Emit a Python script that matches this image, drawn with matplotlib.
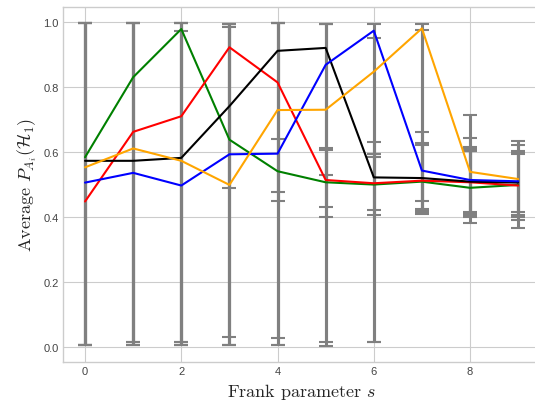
import numpy as np
import matplotlib
matplotlib.use("Agg")
import matplotlib.pyplot as plt

plt.style.use("seaborn-v0_8-whitegrid")
plt.rcParams["mathtext.fontset"] = "cm"
plt.rcParams["font.family"] = ["Liberation Sans", "DejaVu Sans"]

# ── data ────────────────────────────────────────────────────────────────
s = np.arange(10)

green = [0.583, 0.829, 0.977, 0.637, 0.540, 0.506, 0.499, 0.508, 0.489, 0.498]
red = [0.447, 0.661, 0.709, 0.921, 0.813, 0.513, 0.503, 0.511, 0.506, 0.496]
black = [0.572, 0.572, 0.581, 0.740, 0.910, 0.919, 0.521, 0.519, 0.508, 0.505]
blue = [0.505, 0.535, 0.496, 0.592, 0.594, 0.867, 0.972, 0.542, 0.513, 0.509]
orange = [0.552, 0.610, 0.572, 0.498, 0.728, 0.729, 0.846, 0.979, 0.538, 0.516]

# error bar bounds (lower, upper) per series
green_lo = [0.005, 0.015, 0.015, 0.005, 0.449, 0.400, 0.406, 0.413, 0.405, 0.414]
green_hi = [0.995, 0.995, 0.995, 0.992, 0.639, 0.611, 0.593, 0.622, 0.603, 0.593]
red_lo = [0.005, 0.005, 0.005, 0.005, 0.026, 0.429, 0.421, 0.417, 0.410, 0.404]
red_hi = [0.995, 0.995, 0.972, 0.992, 0.995, 0.606, 0.585, 0.626, 0.608, 0.598]
black_lo = [0.005, 0.005, 0.005, 0.030, 0.005, 0.004, 0.014, 0.410, 0.416, 0.398]
black_hi = [0.995, 0.995, 0.995, 0.982, 0.995, 0.994, 0.631, 0.660, 0.613, 0.603]
blue_lo = [0.005, 0.015, 0.015, 0.005, 0.005, 0.014, 0.593, 0.423, 0.398, 0.391]
blue_hi = [0.995, 0.995, 0.995, 0.992, 0.995, 0.994, 0.994, 0.974, 0.641, 0.622]
orange_lo = [0.005, 0.005, 0.005, 0.487, 0.475, 0.529, 0.014, 0.448, 0.381, 0.365]
orange_hi = [0.995, 0.995, 0.995, 0.992, 0.995, 0.994, 0.949, 0.992, 0.713, 0.632]

series = [
    (green, green_lo, green_hi, "green"),
    (red, red_lo, red_hi, "red"),
    (black, black_lo, black_hi, "black"),
    (blue, blue_lo, blue_hi, "blue"),
    (orange, orange_lo, orange_hi, "orange"),
]

# ── plot ────────────────────────────────────────────────────────────────
fig = plt.figure(figsize=(5.35, 4.06), dpi=100)
ax = fig.add_axes([0.1185, 0.107, 0.8905, 0.8735])

for mean, lo, hi, col in series:
    mean = np.array(mean)
    yerr = [mean - np.array(lo), np.array(hi) - mean]
    ax.errorbar(s, mean, yerr=yerr, fmt="none", ecolor="gray",
                elinewidth=2.2, capsize=5, capthick=1.5, zorder=2)

for mean, lo, hi, col in series:
    ax.plot(s, mean, color=col, lw=1.5, zorder=3)

ax.set_xlim(-0.45, 9.45)
ax.set_ylim(-0.045, 1.045)
ax.set_xticks([0, 2, 4, 6, 8])
ax.set_yticks([0.0, 0.2, 0.4, 0.6, 0.8, 1.0])
ax.tick_params(labelsize=8, colors="#444444")
ax.set_xlabel(r"Frank parameter $s$", fontname="cmr10", fontsize=13, labelpad=3)
ax.set_ylabel(r"Average $P_{A_i}(\mathcal{H}_1)$", fontname="cmr10", fontsize=13, labelpad=3)

plt.savefig("out.png", dpi=100)
plt.close()
